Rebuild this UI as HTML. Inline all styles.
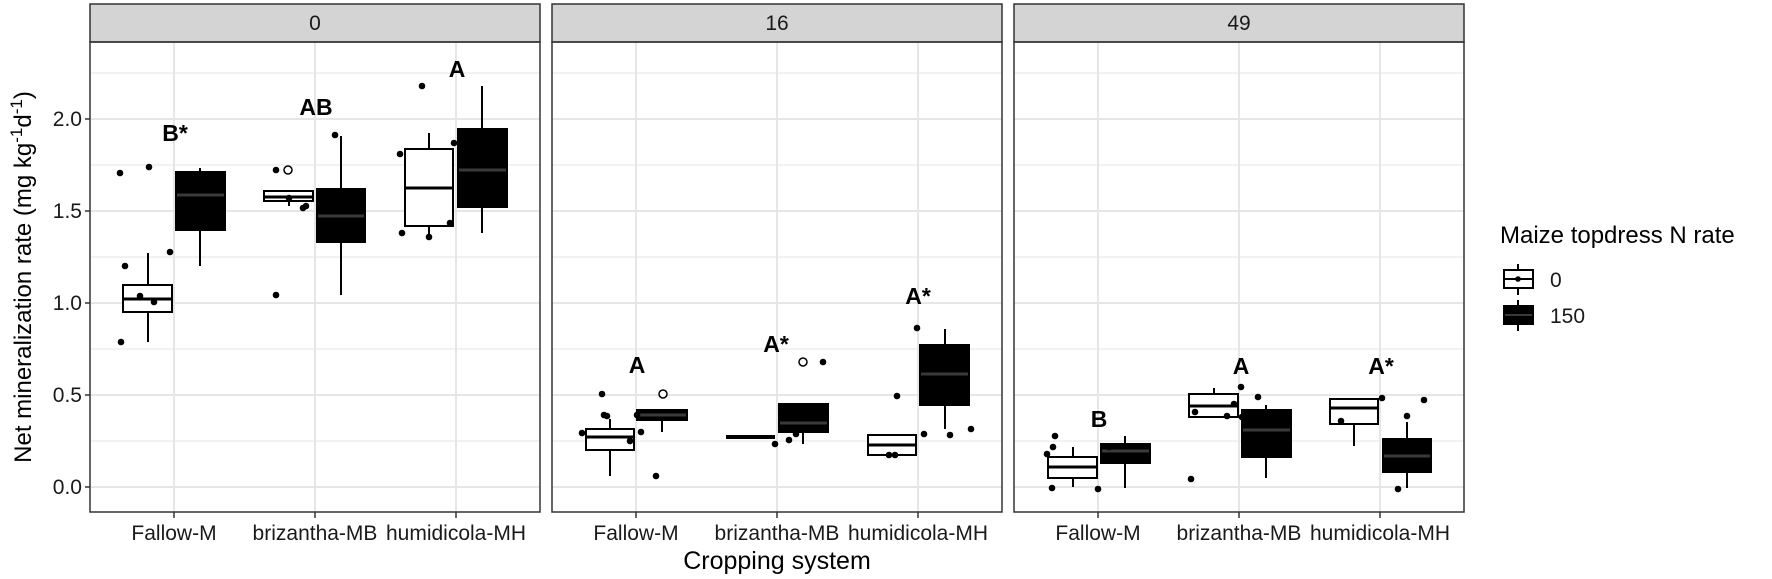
<!DOCTYPE html>
<html><head><meta charset="utf-8"><style>
html,body{margin:0;padding:0;background:#fff;}
svg{display:block;font-family:"Liberation Sans",Arial,sans-serif;}
</style></head><body>
<svg width="1772" height="579" viewBox="0 0 1772 579" xmlns="http://www.w3.org/2000/svg">
<defs>
<g id="grid">
  <g stroke="#ebebeb" stroke-width="1.2">
    <line x1="0" x2="450" y1="441" y2="441"/><line x1="0" x2="450" y1="349" y2="349"/>
    <line x1="0" x2="450" y1="257" y2="257"/><line x1="0" x2="450" y1="165" y2="165"/>
    <line x1="0" x2="450" y1="73" y2="73"/>
  </g>
  <g stroke="#e6e6e6" stroke-width="2">
    <line x1="0" x2="450" y1="487" y2="487"/><line x1="0" x2="450" y1="395" y2="395"/>
    <line x1="0" x2="450" y1="303" y2="303"/><line x1="0" x2="450" y1="211" y2="211"/>
    <line x1="0" x2="450" y1="119" y2="119"/>
    <line x1="84" x2="84" y1="42" y2="512"/><line x1="225" x2="225" y1="42" y2="512"/><line x1="366" x2="366" y1="42" y2="512"/>
  </g>
  <rect x="0" y="4" width="450" height="38" fill="#d4d4d4" stroke="#333" stroke-width="1.5"/>
  <rect x="0" y="42" width="450" height="470" fill="none" stroke="#333" stroke-width="1.5"/>
  <g stroke="#333" stroke-width="1.5">
    <line x1="84" x2="84" y1="512" y2="518"/><line x1="225" x2="225" y1="512" y2="518"/><line x1="366" x2="366" y1="512" y2="518"/>
  </g>
  <g font-size="21" fill="#1a1a1a" text-anchor="middle">
    <text x="84" y="540">Fallow-M</text><text x="225" y="540">brizantha-MB</text><text x="366" y="540">humidicola-MH</text>
  </g>
</g>
</defs>

<use href="#grid" x="90"/>
<use href="#grid" x="552"/>
<use href="#grid" x="1014"/>

<g font-size="21" fill="#1a1a1a" text-anchor="middle">
<text x="315" y="30">0</text><text x="777" y="30">16</text><text x="1239" y="30">49</text>
</g>

<g stroke="#333" stroke-width="1.5">
<line x1="85" x2="90" y1="487" y2="487"/><line x1="85" x2="90" y1="395" y2="395"/>
<line x1="85" x2="90" y1="303" y2="303"/><line x1="85" x2="90" y1="211" y2="211"/>
<line x1="85" x2="90" y1="119" y2="119"/>
</g>
<g font-size="21" fill="#1a1a1a" text-anchor="end">
<text x="82" y="494">0.0</text><text x="82" y="402">0.5</text><text x="82" y="310">1.0</text>
<text x="82" y="218">1.5</text><text x="82" y="126">2.0</text>
</g>
<text transform="translate(31,277) rotate(-90)" font-size="24" fill="#000" text-anchor="middle">Net mineralization rate (mg kg<tspan font-size="17" dy="-9">-1</tspan><tspan dy="9">d</tspan><tspan font-size="17" dy="-9">-1</tspan><tspan dy="9">)</tspan></text>
<text x="777" y="569" font-size="25" fill="#000" text-anchor="middle">Cropping system</text>

<g stroke="#000" stroke-width="2">
<line x1="148" x2="148" y1="253" y2="342"/><rect x="123" y="285" width="49" height="27" fill="#fff"/><line x1="123" x2="172" y1="299" y2="299" stroke-width="3"/>
<line x1="200" x2="200" y1="168" y2="266"/><rect x="176" y="172" width="49" height="58" fill="#000"/>
<line x1="289" x2="289" y1="191" y2="206"/><rect x="264" y="191" width="49" height="10" fill="#fff"/><line x1="264" x2="313" y1="197" y2="197" stroke-width="3"/>
<line x1="341" x2="341" y1="136" y2="295"/><rect x="317" y="189" width="48" height="53" fill="#000"/>
<line x1="429" x2="429" y1="133" y2="237"/><rect x="405" y="149" width="48" height="77" fill="#fff"/><line x1="405" x2="453" y1="188" y2="188" stroke-width="3"/>
<line x1="482" x2="482" y1="86" y2="233"/><rect x="458" y="129" width="49" height="78" fill="#000"/>
<line x1="610" x2="610" y1="419" y2="476"/><rect x="586" y="429" width="48" height="21" fill="#fff"/><line x1="586" x2="634" y1="437" y2="437" stroke-width="3"/>
<line x1="662" x2="662" y1="410" y2="432"/><rect x="637" y="410" width="50" height="10" fill="#000"/>
<line x1="726" x2="775" y1="437" y2="437" stroke-width="4"/>
<line x1="803" x2="803" y1="404" y2="444"/><rect x="779" y="404" width="49" height="28" fill="#000"/>
<rect x="868" y="435" width="48" height="20" fill="#fff"/><line x1="868" x2="916" y1="445" y2="445" stroke-width="3"/>
<line x1="945" x2="945" y1="329" y2="429"/><rect x="920" y="345" width="49" height="60" fill="#000"/>
<line x1="1073" x2="1073" y1="447" y2="487"/><rect x="1048" y="457" width="49" height="21" fill="#fff"/><line x1="1048" x2="1097" y1="467" y2="467" stroke-width="3"/>
<line x1="1125" x2="1125" y1="436" y2="488"/><rect x="1101" y="444" width="49" height="19" fill="#000"/>
<line x1="1214" x2="1214" y1="388" y2="417"/><rect x="1189" y="394" width="49" height="23" fill="#fff"/><line x1="1189" x2="1238" y1="406" y2="406" stroke-width="3"/>
<line x1="1266" x2="1266" y1="405" y2="478"/><rect x="1242" y="410" width="49" height="47" fill="#000"/>
<line x1="1354" x2="1354" y1="399" y2="446"/><rect x="1330" y="399" width="48" height="25" fill="#fff"/><line x1="1330" x2="1378" y1="408" y2="408" stroke-width="3"/>
<line x1="1407" x2="1407" y1="422" y2="488"/><rect x="1383" y="439" width="48" height="33" fill="#000"/>
</g>
<g stroke="#3a3a3a" stroke-width="3">
<line x1="177" x2="224" y1="195" y2="195"/><line x1="318" x2="364" y1="216" y2="216"/><line x1="459" x2="506" y1="170" y2="170"/>
<line x1="638" x2="686" y1="415" y2="415"/><line x1="780" x2="827" y1="423" y2="423"/><line x1="921" x2="968" y1="374" y2="374"/>
<line x1="1102" x2="1149" y1="451" y2="451"/><line x1="1243" x2="1290" y1="430" y2="430"/><line x1="1384" x2="1430" y1="456" y2="456"/>
</g>
<g fill="#fff" stroke="#000" stroke-width="1.5">
<circle cx="288" cy="170" r="4"/><circle cx="663" cy="394" r="4"/><circle cx="803" cy="362" r="4"/>
</g>
<g fill="#000">
<circle cx="120" cy="173" r="3.3"/><circle cx="149" cy="167" r="3.3"/><circle cx="170" cy="252" r="3.3"/><circle cx="125" cy="266" r="3.3"/><circle cx="140" cy="296" r="3.3"/><circle cx="154" cy="302" r="3.3"/><circle cx="121" cy="342" r="3.3"/>
<circle cx="276" cy="170" r="3.3"/><circle cx="276" cy="295" r="3.3"/><circle cx="303" cy="208" r="3.3"/><circle cx="306" cy="206" r="3.3"/><circle cx="289" cy="198" r="3.3"/><circle cx="335" cy="135" r="3.3"/>
<circle cx="422" cy="86" r="3.3"/><circle cx="400" cy="154" r="3.3"/><circle cx="402" cy="233" r="3.3"/><circle cx="429" cy="237" r="3.3"/><circle cx="450" cy="223" r="3.3"/><circle cx="454" cy="143" r="3.3"/>
<circle cx="602" cy="394" r="3.3"/><circle cx="604" cy="415" r="3.3"/><circle cx="607" cy="416" r="3.3"/><circle cx="582" cy="433" r="3.3"/><circle cx="630" cy="441" r="3.3"/><circle cx="637" cy="415" r="3.3"/><circle cx="641" cy="432" r="3.3"/><circle cx="656" cy="476" r="3.3"/>
<circle cx="775" cy="444" r="3.3"/><circle cx="789" cy="440" r="3.3"/><circle cx="796" cy="434" r="3.3"/><circle cx="823" cy="362" r="3.3"/>
<circle cx="889" cy="455" r="3.3"/><circle cx="895" cy="455" r="3.3"/><circle cx="897" cy="396" r="3.3"/><circle cx="917" cy="328" r="3.3"/><circle cx="924" cy="434" r="3.3"/><circle cx="950" cy="435" r="3.3"/><circle cx="971" cy="429" r="3.3"/>
<circle cx="1055" cy="436" r="3.3"/><circle cx="1053" cy="447" r="3.3"/><circle cx="1047" cy="454" r="3.3"/><circle cx="1052" cy="488" r="3.3"/><circle cx="1098" cy="489" r="3.3"/><circle cx="1109" cy="447" r="3.3"/>
<circle cx="1195" cy="412" r="3.3"/><circle cx="1227" cy="416" r="3.3"/><circle cx="1234" cy="404" r="3.3"/><circle cx="1241" cy="387" r="3.3"/><circle cx="1191" cy="479" r="3.3"/><circle cx="1242" cy="417" r="3.3"/><circle cx="1258" cy="397" r="3.3"/>
<circle cx="1341" cy="421" r="3.3"/><circle cx="1382" cy="398" r="3.3"/><circle cx="1407" cy="416" r="3.3"/><circle cx="1424" cy="400" r="3.3"/><circle cx="1398" cy="489" r="3.3"/>
</g>
<g font-size="23" font-weight="bold" fill="#000" text-anchor="middle">
<text x="175" y="141">B*</text><text x="316" y="115">AB</text><text x="457" y="77">A</text>
<text x="637" y="373">A</text><text x="776" y="352">A*</text><text x="918" y="304">A*</text>
<text x="1099" y="427">B</text><text x="1241" y="374">A</text><text x="1381" y="374">A*</text>
</g>

<text x="1500" y="243" font-size="24" fill="#000">Maize topdress N rate</text>
<g stroke="#000" stroke-width="2">
<line x1="1518" x2="1518" y1="264" y2="295"/><rect x="1504" y="270" width="29" height="18" fill="#fff"/><line x1="1504" x2="1533" y1="279" y2="279"/>
<line x1="1518" x2="1518" y1="300" y2="331"/><rect x="1504" y="306" width="29" height="18" fill="#000"/>
</g>
<circle cx="1518" cy="279" r="2.8" fill="#000"/>
<line x1="1505" x2="1532" y1="315" y2="315" stroke="#3a3a3a" stroke-width="2"/>
<g font-size="21" fill="#1a1a1a">
<text x="1550" y="287">0</text><text x="1550" y="323">150</text>
</g>
</svg>
</body></html>
